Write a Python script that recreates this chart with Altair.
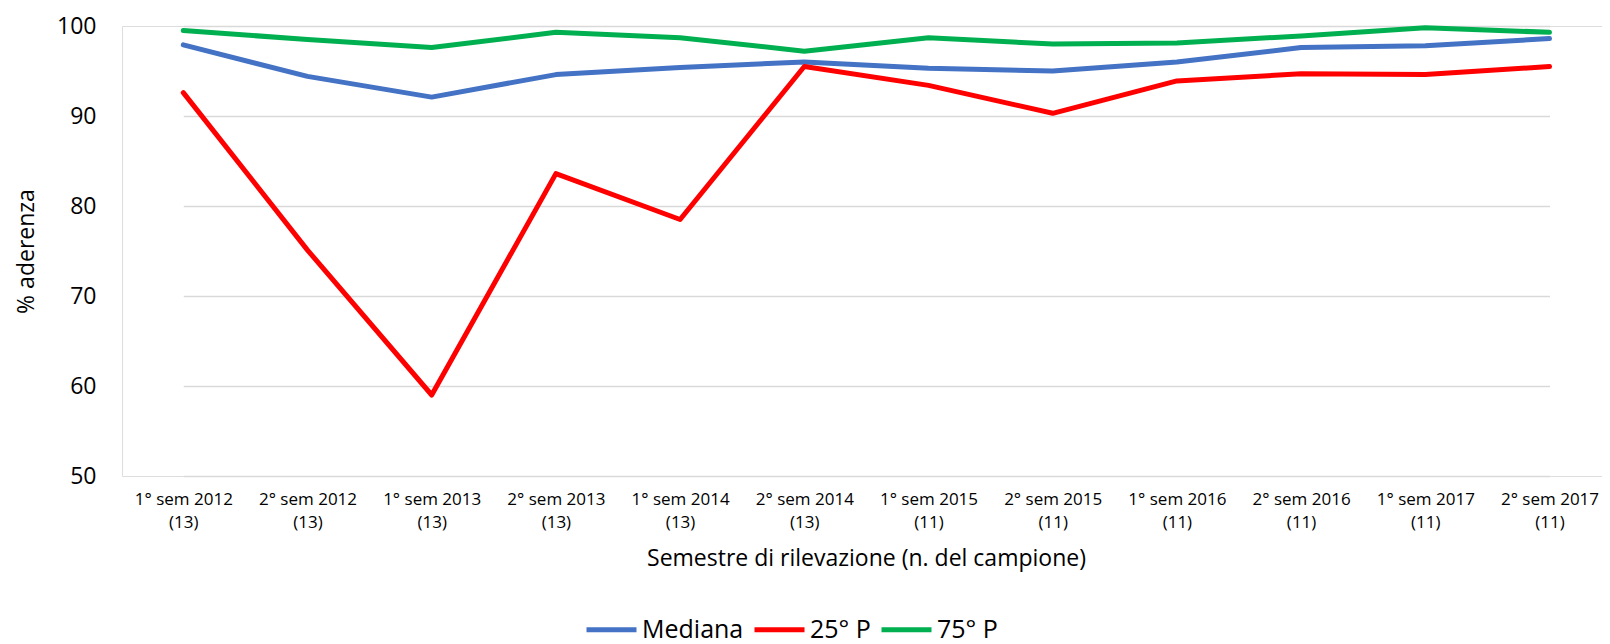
import altair as alt
import pandas as pd

semestri = ["1° sem 2012", "2° sem 2012", "1° sem 2013", "2° sem 2013", "1° sem 2014",
            "2° sem 2014", "1° sem 2015", "2° sem 2015", "1° sem 2016", "2° sem 2016",
            "1° sem 2017", "2° sem 2017"]
campione = [13, 13, 13, 13, 13, 13, 11, 11, 11, 11, 11, 11]

mediana = [97.9, 94.4, 92.1, 94.6, 95.4, 96.0, 95.3, 95.0, 96.0, 97.6, 97.8, 98.6]
p25 = [92.6, 75.1, 59.0, 83.6, 78.5, 95.5, 93.4, 90.3, 93.9, 94.7, 94.6, 95.5]
p75 = [99.5, 98.5, 97.6, 99.3, 98.7, 97.2, 98.7, 98.0, 98.1, 98.9, 99.8, 99.3]

serie = ["Mediana", "25° P", "75° P"]
colori = ["#4472C4", "#FF0000", "#00B050"]

categorie = [f"{s}\n({n})" for s, n in zip(semestri, campione)]

rows = []
for nome, valori in zip(serie, [mediana, p25, p75]):
    for c, v in zip(categorie, valori):
        rows.append({"semestre": c, "valore": v, "serie": nome})
df = pd.DataFrame(rows)

FONT = "Open Sans"
W, H = 1480, 450
step = 124.2
x0 = 61.3

chart = alt.Chart(df).mark_line(
    strokeWidth=5, strokeCap="round", strokeJoin="round"
).encode(
    x=alt.X(
        "semestre:N",
        sort=categorie,
        scale=alt.Scale(type="point", range=[x0, x0 + step * 11], padding=0),
        axis=alt.Axis(
            title="Semestre di rilevazione (n. del campione)",
            labelExpr="split(datum.label, '\\n')",
            labelAngle=0,
            labelFontSize=17,
            labelLineHeight=23.6,
            labelPadding=15,
            labelColor="#000000",
            labelFont=FONT,
            grid=False,
            domain=False,
            ticks=False,
            labelLimit=0,
            titleFont=FONT,
            titleFontSize=23,
            titleFontWeight="normal",
            titleColor="#000000",
            titleX=744,
            titleY=82,
            titleBaseline="middle",
            titleAlign="center",
        ),
    ),
    y=alt.Y(
        "valore:Q",
        scale=alt.Scale(domain=[50, 100], nice=False, zero=False),
        axis=alt.Axis(
            values=[50, 60, 70, 80, 90, 100],
            title="% aderenza",
            labelFontSize=23,
            labelFont=FONT,
            labelColor="#000000",
            labelPadding=26,
            ticks=False,
            domain=False,
            grid=True,
            gridColor="#D9D9D9",
            gridWidth=1.3,
            titleFont=FONT,
            titleFontSize=23,
            titleFontWeight="normal",
            titleColor="#000000",
            titleX=-96,
            titleY=225,
            titleAngle=-90,
            titleBaseline="middle",
            titleAlign="center",
        ),
    ),
    color=alt.Color(
        "serie:N",
        sort=serie,
        scale=alt.Scale(domain=serie, range=colori),
        legend=alt.Legend(
            title=None,
            orient="none",
            legendX=462,
            legendY=576,
            direction="horizontal",
            symbolType="stroke",
            symbolSize=2500,
            symbolStrokeWidth=5,
            labelFontSize=25,
            labelFont=FONT,
            labelColor="#000000",
            labelOffset=3,
            columnPadding=0,
        ),
    ),
).properties(
    width=W,
    height=H,
    autosize=alt.AutoSizeParams(type="none"),
    padding={"left": 114, "top": 18, "right": 0, "bottom": 180},
).configure_view(stroke=None).configure(background="#ffffff")

chart.save("out.html", embed_options={"renderer": "svg", "actions": False})
